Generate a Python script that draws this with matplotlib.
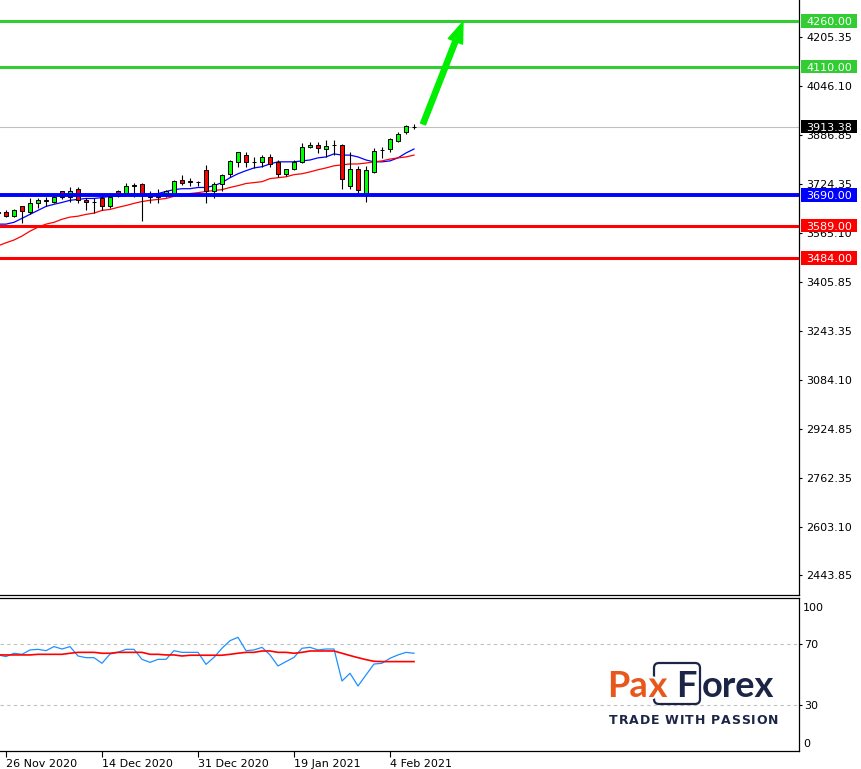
import numpy as np
import matplotlib
matplotlib.use('Agg')
import matplotlib.pyplot as plt
from matplotlib.patches import Rectangle, FancyBboxPatch, FancyArrowPatch
from matplotlib.transforms import blended_transform_factory, IdentityTransform
import matplotlib.patheffects as pe

plt.rcParams['font.family'] = ['DejaVu Sans']

# ---------------- data (daily bars, US500) ----------------
opens = [3632, 3633, 3620, 3652, 3633, 3662, 3671, 3665, 3701, 3684, 3710, 3672, 3666, 3681, 3652,
         3701, 3697, 3720, 3726, 3685, 3684, 3694, 3694, 3739, 3733, 3733, 3772, 3701, 3726, 3759,
         3798, 3820, 3798, 3798, 3814, 3798, 3759, 3775, 3798, 3846, 3853, 3840, 3852, 3853, 3720,
         3775, 3694, 3765, 3836, 3840, 3866, 3895, 3911]
highs = [3638, 3639, 3642, 3655, 3681, 3678, 3684, 3697, 3704, 3714, 3717, 3681, 3678, 3694, 3697,
         3707, 3730, 3730, 3730, 3704, 3710, 3707, 3739, 3756, 3746, 3736, 3788, 3733, 3759, 3804,
         3831, 3830, 3814, 3820, 3823, 3804, 3776, 3804, 3859, 3862, 3862, 3869, 3869, 3856, 3830,
         3785, 3785, 3843, 3846, 3875, 3895, 3917, 3921]
lows = [3627, 3616, 3616, 3597, 3626, 3646, 3655, 3662, 3675, 3665, 3662, 3639, 3630, 3639, 3646,
        3684, 3694, 3684, 3604, 3662, 3662, 3684, 3688, 3723, 3720, 3720, 3662, 3681, 3701, 3749,
        3781, 3781, 3778, 3781, 3781, 3749, 3752, 3772, 3794, 3843, 3827, 3814, 3820, 3710, 3710,
        3697, 3665, 3762, 3811, 3830, 3862, 3888, 3904]
closes = [3633, 3620, 3639, 3636, 3662, 3672, 3672, 3684, 3684, 3701, 3672, 3665, 3665, 3652, 3684,
          3694, 3720, 3721, 3691, 3684, 3685, 3701, 3736, 3730, 3734, 3732, 3701, 3726, 3756, 3801,
          3830, 3798, 3797, 3814, 3791, 3759, 3775, 3798, 3846, 3853, 3843, 3849, 3853, 3743, 3775,
          3707, 3772, 3833, 3837, 3872, 3888, 3914, 3913.38]
ma_fast = [3594, 3594, 3600, 3613, 3626, 3639, 3652, 3659, 3665, 3672, 3675, 3678, 3678, 3681, 3685,
           3685, 3688, 3688, 3691, 3691, 3694, 3701, 3707, 3710, 3710, 3714, 3714, 3720, 3730, 3746,
           3759, 3769, 3778, 3782, 3791, 3798, 3798, 3798, 3801, 3804, 3811, 3814, 3824, 3820, 3820,
           3814, 3804, 3798, 3798, 3801, 3811, 3827, 3840]
ma_slow = [3523, 3533, 3542, 3555, 3571, 3584, 3594, 3600, 3610, 3617, 3620, 3626, 3630, 3639, 3642,
           3649, 3655, 3662, 3668, 3672, 3675, 3678, 3685, 3688, 3694, 3697, 3701, 3704, 3707, 3714,
           3720, 3727, 3730, 3733, 3743, 3746, 3749, 3756, 3759, 3765, 3772, 3778, 3785, 3788, 3791,
           3791, 3794, 3798, 3801, 3807, 3811, 3814, 3820]
rsi = [63.0, 61.9, 64.1, 63.4, 66.3, 66.7, 65.8, 68.5, 66.9, 68.5, 62.3, 61.2, 61.2, 57.5, 63.6,
       64.7, 66.7, 66.7, 60.1, 58.1, 60.1, 60.1, 65.8, 64.7, 64.7, 64.7, 56.8, 61.4, 67.4, 72.4,
       74.6, 65.8, 66.3, 68.0, 63.0, 55.7, 58.6, 61.4, 67.4, 68.0, 66.3, 66.9, 66.9, 45.8, 50.9,
       42.5, 49.8, 57.0, 57.5, 60.8, 63.0, 64.7, 64.1]
rsi_ma = [63.0, 63.0, 63.0, 63.0, 63.0, 63.4, 63.4, 63.4, 63.4, 64.1, 64.7, 64.7, 64.7, 64.1, 64.1,
          64.7, 64.7, 64.7, 64.7, 63.4, 63.4, 63.0, 63.0, 62.3, 62.8, 62.8, 62.8, 62.8, 62.8, 63.4,
          64.1, 64.7, 64.7, 65.6, 65.6, 64.7, 64.7, 64.1, 64.7, 65.6, 65.6, 65.6, 65.6, 64.1, 62.6,
          61.2, 59.9, 58.8, 58.6, 58.6, 58.6, 58.6, 58.6]

price_ticks = [4205.35, 4046.10, 3886.85, 3724.35, 3565.10, 3405.85, 3243.35, 3084.10,
               2924.85, 2762.35, 2603.10, 2443.85]
level_prices = [4260.00, 4110.00, 3690.00, 3589.00, 3484.00]
level_colors = ['#32CD32', '#32CD32', '#0000FF', '#FF0000', '#FF0000']
last_price = 3913.38
rsi_levels = [70, 30]
date_labels = ['26 Nov 2020', '14 Dec 2020', '31 Dec 2020', '19 Jan 2021', '4 Feb 2021']
date_bar_index = [1, 13, 25, 37, 49]
arrow_start = (53.125, 3922.0)
arrow_end = (58.125, 4256.0)

# ---------------- layout ----------------
W, H = 862, 769
fig = plt.figure(figsize=(W / 100, H / 100), dpi=100)
fig.patch.set_facecolor('white')

x = np.arange(len(opens))
o = np.array(opens, float); c = np.array(closes, float)
hi = np.array(highs, float); lo = np.array(lows, float)
xlim = (0.25, 0.25 + 799 / 8)

ax = fig.add_axes([0, (H - 595) / H, 799 / W, 595 / H])
ax.set_xlim(*xlim)
ax.set_ylim(2379.8, 4327.8)

ax.axhline(last_price, color='#C0C0C0', lw=0.8, zorder=1)
ax.plot(x, ma_fast, color='#0000FF', lw=0.9, zorder=1.5)
ax.plot(x, ma_slow, color='#FF0000', lw=0.9, zorder=1.5)

ax.vlines(x, lo, hi, color='black', lw=0.8, zorder=2)
bottoms = np.minimum(o, c)
heights = np.maximum(np.abs(c - o), 0.6)
body_colors = ['#00FF00' if cc >= oo else '#FF0000' for oo, cc in zip(o, c)]
ax.bar(x, heights, width=0.6, bottom=bottoms, color=body_colors, edgecolor='black',
       linewidth=0.7, zorder=3)

for p, col in zip(level_prices, level_colors):
    ax.axhline(p, color=col, lw=2.8 if col == '#0000FF' else 2.2, zorder=4)

arr = FancyArrowPatch(arrow_start, arrow_end,
                      arrowstyle='simple,head_length=0.75,head_width=0.55,tail_width=0.19',
                      mutation_scale=20, color='#00EE00', zorder=5, shrinkA=0, shrinkB=0)
ax.add_patch(arr)

for s in ['top', 'left']:
    ax.spines[s].set_visible(False)
for s in ['bottom', 'right']:
    ax.spines[s].set_linewidth(0.9)
ax.set_xticks([])
ax.yaxis.tick_right()
ax.set_yticks(price_ticks)
ax.set_yticklabels([f'{v:.2f}' for v in price_ticks])
ax.tick_params(axis='y', direction='out', length=2.2, width=0.8, pad=3, labelsize=8,
               colors='black')

bt = blended_transform_factory(ax.transAxes, ax.transData)
half_h = 6.8 * 3.274
labels = list(zip(level_prices, level_colors)) + [(last_price, '#000000')]
for p, col in labels:
    ax.add_patch(Rectangle((1.0025, p - half_h), 0.0701, 2 * half_h, transform=bt,
                           facecolor=col, edgecolor='none', clip_on=False, zorder=10))
    ax.text(1.0375, p, f'{p:.2f}', transform=bt, ha='center', va='center_baseline',
            color='white', fontsize=8, zorder=11, clip_on=False)

# ---------------- RSI pane ----------------
rax = fig.add_axes([0, (H - 751) / H, 799 / W, (751 - 597.5) / H])
rax.set_xlim(*xlim)
rax.set_ylim(-0.33, 100.86)
for lvl in rsi_levels:
    rax.axhline(lvl, color='#C0C0C0', lw=0.8, ls=(0, (3, 3)), zorder=1)
rax.plot(x, rsi, color='#1E90FF', lw=0.9, zorder=2)
rax.plot(x, rsi_ma, color='#FF0000', lw=1.2, zorder=2)
rax.spines['left'].set_visible(False)
for s in ['top', 'bottom', 'right']:
    rax.spines[s].set_linewidth(0.9)
rax.yaxis.tick_right()
rax.set_yticks(rsi_levels)
rax.set_yticklabels([str(v) for v in rsi_levels])
rax.tick_params(axis='y', direction='out', length=2, width=0.8, pad=1.5, labelsize=8)
rbt = blended_transform_factory(rax.transAxes, rax.transData)
rax.text(1.005, 94.6, '100', transform=rbt, ha='left', va='center_baseline', fontsize=8)
rax.text(1.005, 4.9, '0', transform=rbt, ha='left', va='center_baseline', fontsize=8)
rax.set_xticks(date_bar_index)
rax.set_xticklabels(date_labels, ha='left')
rax.tick_params(axis='x', direction='out', length=4, width=0.8, pad=2, labelsize=8)

# ---------------- logo ----------------
orange = '#E8581C'
navy = '#1C2546'
idt = IdentityTransform()
def Y(y):
    return H - y
box = FancyBboxPatch((654, Y(704)), 46, 41, boxstyle='round,pad=0,rounding_size=5',
                     transform=idt, facecolor='none', edgecolor=navy, linewidth=1.6,
                     figure=fig, zorder=1)
fig.patches.append(box)
lf = dict(fontsize=26, fontweight='bold', family='Lato', transform=idt, va='baseline')
fig.text(607, Y(697), 'Pa', color=orange, ha='left', **lf)
fig.text(658, Y(697), 'x', color=orange, ha='center',
         path_effects=[pe.withStroke(linewidth=3, foreground='white')], **lf)
fig.text(686, Y(697), 'F', color=navy, ha='center', **lf)
fig.text(702, Y(697), 'orex', color=navy, ha='left', **lf)

# tagline with letter tracking
tagline = 'TRADE WITH PASSION'
renderer = fig.canvas.get_renderer()
tf = dict(color=navy, va='center', fontsize=9, fontweight='bold', family='DejaVu Sans',
          transform=idt)
widths = []
for ch in tagline:
    if ch == ' ':
        widths.append(4.0)
    else:
        t = fig.text(0, 0, ch, **tf)
        widths.append(t.get_window_extent(renderer).width)
        t.remove()
x0, x1 = 609.0, 778.0
track = (x1 - x0 - sum(widths)) / (len(tagline) - 1)
cx = x0
for ch, w in zip(tagline, widths):
    if ch != ' ':
        fig.text(cx, Y(721), ch, ha='left', **tf)
    cx += w + track

fig.savefig('out.png', dpi=100)
